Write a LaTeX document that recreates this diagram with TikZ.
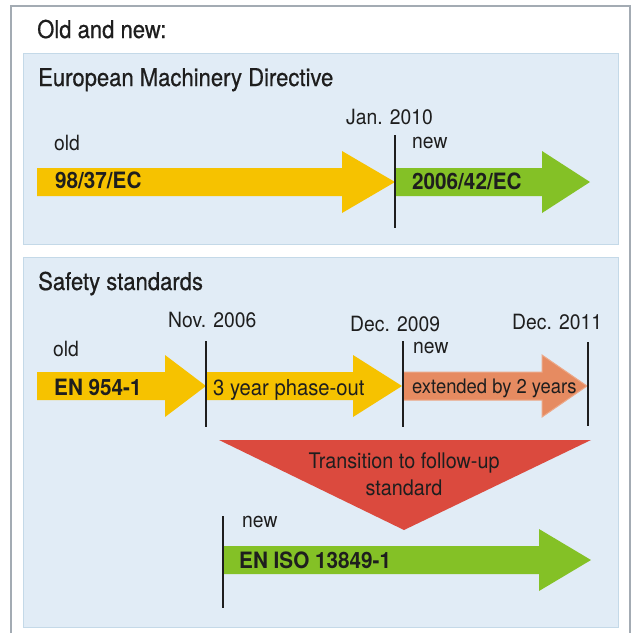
\documentclass[tikz,border=0pt]{standalone}
\usepackage{fontspec}
\setmainfont[FakeStretch=0.92]{TeX Gyre Heros}
\newfontfamily\headfont[FakeStretch=0.9,FakeBold=0.6]{TeX Gyre Heros}
\usetikzlibrary{positioning}

\definecolor{framegray}{HTML}{A3ABB3}
\definecolor{panelblue}{HTML}{E1ECF6}
\definecolor{paneledge}{HTML}{C4D9E8}
\definecolor{oldyellow}{HTML}{F6C200}
\definecolor{newgreen}{HTML}{84C126}
\definecolor{extorange}{HTML}{E68B61}
\definecolor{transred}{HTML}{DB4A3E}
\definecolor{ink}{HTML}{1E1E1E}

% fat arrow: style, x start, x head, x tip, y middle
\newcommand{\fatarrow}[5]{%
  \fill[#1] (#2,#5-14) -- (#3,#5-14) -- (#3,#5-31) -- (#4,#5)
    -- (#3,#5+31) -- (#3,#5+14) -- (#2,#5+14) -- cycle;}

\begin{document}
\begin{tikzpicture}[x=1pt,y=-1pt,
  every node/.style={inner sep=0pt,text=ink,anchor=base west},
  heading/.style={font=\headfont\fontsize{24.5}{28}\selectfont},
  datelbl/.style={font=\fontsize{21}{25}\selectfont},
  stdlbl/.style={font=\bfseries\fontsize{22.5}{26}\selectfont},
  barlbl/.style={font=\fontsize{21.5}{26}\selectfont},
  cutline/.style={draw=ink,line width=2pt},
  panel/.style={fill=panelblue,draw=paneledge,line width=1pt}]

\useasboundingbox (0,0) rectangle (634,633);

% outer frame, open at the bottom
\draw[draw=framegray,line width=1.5pt] (11,633) -- (11,6) -- (630,6) -- (630,633);
\node[heading] (oldnew) at (37,38) {Old and new:};

% European Machinery Directive
\draw[panel] (23.5,53.5) rectangle (618.5,244.5);
\node[heading] (emd) at (38,86) {European Machinery Directive};

\fatarrow{oldyellow}{37}{342}{395}{182}
\fatarrow{newgreen}{396}{542}{590}{182}

\coordinate (jan10top) at (395,135);
\coordinate (jan10bot) at (395,228);
\draw[cutline] (jan10top) -- (jan10bot);

\node[datelbl] (jan10) at (346,124) {Jan. 2010};
\node[datelbl] (emdold) at (54,150) {old};
\node[datelbl] (emdnew) at (412,148) {new};
\node[stdlbl] (ec9837) at (55,188) {98/37/EC};
\node[stdlbl] (ec200642) at (412,189) {2006/42/EC};

% Safety standards
\draw[panel] (23.5,257.5) rectangle (618.5,627.5);
\node[heading] (safety) at (38,290) {Safety standards};

\fatarrow{oldyellow}{37}{165}{206}{386}
\fatarrow{oldyellow}{206}{353}{402}{386}
\fatarrow{extorange,draw=extorange!75!white,line width=1pt}{403}{542}{587}{386}

\coordinate (nov06top) at (206,341);
\coordinate (nov06bot) at (206,427);
\coordinate (dec09top) at (403,341);
\coordinate (dec09bot) at (403,427);
\coordinate (dec11top) at (588,342);
\coordinate (dec11bot) at (588,426);
\draw[cutline] (nov06top) -- (nov06bot);
\draw[cutline] (dec09top) -- (dec09bot);
\draw[cutline] (dec11top) -- (dec11bot);

\node[datelbl] (nov06) at (168,327) {Nov. 2006};
\node[datelbl] (dec09) at (350,331) {Dec. 2009};
\node[datelbl] (dec11) at (512,329) {Dec. 2011};
\node[datelbl] (ssold) at (53,356) {old};
\node[datelbl] (ssnew) at (413,353) {new};
\node[stdlbl] (en954) at (54,395) {EN 954-1};
\node[font=\fontsize{22}{26}\selectfont] (phaseout) at (213,395) {3 year phase-out};
\node[font=\fontsize{20}{24}\selectfont] (extended) at (412,393) {extended by 2 years};

% transition triangle
\coordinate (trileft) at (219,440);
\coordinate (triright) at (591,440);
\coordinate (tritip) at (404,530);
\fill[transred] (trileft) -- (triright) -- (tritip) -- cycle;
\node[barlbl,anchor=base] (trans) at (404,468) {Transition to follow-up};
\node[barlbl,anchor=base] (transb) at (404,495) {standard};

% follow-up standard
\fatarrow{newgreen}{223}{539}{591}{560}
\coordinate (isotop) at (223,516);
\coordinate (isobot) at (223,608);
\draw[cutline] (isotop) -- (isobot);
\node[datelbl] (isonew) at (242,527) {new};
\node[stdlbl] (iso13849) at (239,568) {EN ISO 13849-1};

\end{tikzpicture}
\end{document}
